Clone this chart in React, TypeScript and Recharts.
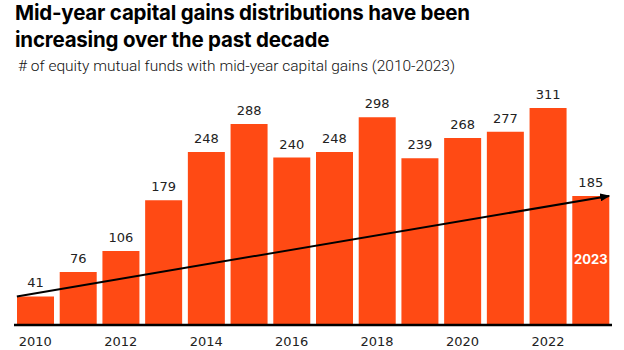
import { BarChart, Bar, XAxis, YAxis, LabelList, ReferenceLine } from 'recharts';

const years = ['2010', '2011', '2012', '2013', '2014', '2015', '2016', '2017', '2018', '2019', '2020', '2021', '2022', '2023'];
const fundCounts = [41, 76, 106, 179, 248, 288, 240, 248, 298, 239, 268, 277, 311, 185];
const trendStart = { year: '2010', value: 41 };
const trendEnd = { year: '2023', value: 185 };

const data = years.map((year, i) => ({ year, funds: fundCounts[i] }));

const ORANGE = '#ff4a14';
const BAR_SIZE = 37;
const LABEL_FONT = 'DejaVu Sans, sans-serif';

// trend arrow: runs from the left edge of the first bar to the right edge of the last one
const TrendArrow = (props: any) => {
    const { x1, y1, x2, y2 } = props;
    const half = BAR_SIZE / 2;
    return (
        <g>
            <defs>
                <marker id="arrowHead" markerWidth="10" markerHeight="8" refX="9" refY="4" orient="auto" markerUnits="userSpaceOnUse">
                    <path d="M0,0 L10,4 L0,8 Z" fill="#000" />
                </marker>
            </defs>
            <line x1={x1 - half} y1={y1} x2={x2 + half} y2={y2} stroke="#000" strokeWidth={2} markerEnd="url(#arrowHead)" />
        </g>
    );
};

// last bar carries its own year label in white
const LastYearLabel = (props: any) => {
    const { x, y, width, height, index } = props;
    if (index !== years.length - 1) return null;
    return (
        <text x={x + width / 2} y={y + height / 2} fill="#fff" fontSize={13} fontWeight={700} textAnchor="middle" dominantBaseline="middle" fontFamily="Inter, sans-serif">
            {years[index]}
        </text>
    );
};

export default function App() {
    return (
        <div style={{ position: 'absolute', left: 0, top: 0, width: 624, height: 350, background: '#fff', fontFamily: 'Inter, Roboto, sans-serif' }}>
            <div style={{ position: 'absolute', left: 15, top: 0, fontSize: 20.5, fontWeight: 700, lineHeight: '26.5px', color: '#000', letterSpacing: '-0.2px' }}>
                Mid-year capital gains distributions have been
                <br />
                increasing over the past decade
            </div>
            <div style={{ position: 'absolute', left: 18, top: 57, fontSize: 15.5, fontWeight: 300, color: '#111', fontFamily: 'Roboto, sans-serif' }}>
                # of equity mutual funds with mid-year capital gains (2010-2023)
            </div>
            <BarChart width={624} height={350} data={data} margin={{ top: 46, right: 12, bottom: 0, left: 14 }} barCategoryGap={0} style={{ position: 'absolute', left: 0, top: 0 }}>
                <XAxis
                    dataKey="year"
                    interval={1}
                    tickLine={false}
                    tickSize={0}
                    tickMargin={12}
                    height={25}
                    axisLine={{ stroke: '#000', strokeWidth: 2.5 }}
                    tick={{ fill: '#222', fontSize: 13, fontFamily: LABEL_FONT }}
                />
                <YAxis hide domain={[0, 400]} />
                <Bar dataKey="funds" fill={ORANGE} barSize={BAR_SIZE} isAnimationActive={false}>
                    <LabelList dataKey="funds" position="top" offset={9} fill="#222" fontSize={13} fontFamily={LABEL_FONT} />
                    <LabelList dataKey="funds" content={<LastYearLabel />} />
                </Bar>
                <ReferenceLine
                    segment={[{ x: trendStart.year, y: trendStart.value }, { x: trendEnd.year, y: trendEnd.value }]}
                    shape={<TrendArrow />}
                    ifOverflow="visible"
                />
            </BarChart>
        </div>
    );
}
